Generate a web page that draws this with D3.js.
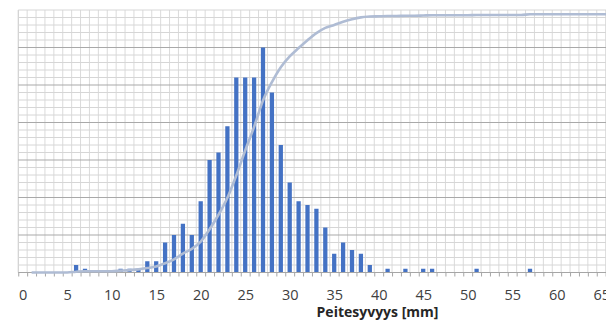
<!DOCTYPE html>
<html>
<head>
<meta charset="utf-8">
<script src="https://cdn.jsdelivr.net/npm/d3@7"></script>
<style>
  html, body { margin: 0; padding: 0; background: #ffffff; }
  svg { display: block; }
</style>
</head>
<body>
<svg id="chart" width="606" height="320"></svg>
<script>
// ---- data ----
// bins: cover depth in mm (one bin per millimetre)
const bins = [0,1,2,3,4,5,6,7,8,9,10,11,12,13,14,15,16,17,18,19,20,21,22,23,24,25,26,27,28,29,30,31,32,33,34,35,36,37,38,39,40,41,42,43,44,45,46,47,48,49,50,51,52,53,54,55,56,57,58,59,60,61,62,63,64,65,66];
// frequency (count) per bin
const counts = [0,0,0,0,0,0,2,1,0,0,0,1,1,1,3,3,8,10,13,10,19,30,32,39,52,52,52,60,48,34,24,19,18,17,12,5,8,6,5,2,0,1,0,1,0,1,1,0,0,0,0,1,0,0,0,0,0,1,0,0,0,0,0,0,0,0,0];
// cumulative share (%) per bin, secondary axis (bin 0 has no point)
const cumulative = [null,0,0,0,0,0,0.3,0.5,0.5,0.5,0.5,0.7,0.9,1.2,1.7,2.3,3.5,5.0,7.2,9.0,11.8,16.5,22.0,28.5,37.0,46.5,55.5,65.5,72.5,78.2,82.3,85.5,88.5,91.2,93.2,94.3,95.5,96.5,97.2,97.5,97.6,97.7,97.7,97.8,97.8,97.9,98.0,98.0,98.0,98.0,98.0,98.1,98.1,98.1,98.1,98.1,98.1,98.4,98.4,98.4,98.4,98.4,98.4,98.4,98.4,98.4,98.4];
// tick labels on the x axis
const xTickLabels = [0,5,10,15,20,25,30,35,40,45,50,55,60,65];
const xTitle = "Peitesyvyys [mm]";
// primary (count) axis range and grid steps
const countMax = 70;
const countMinorStep = 2;
const countMajorStep = 10;

// ---- layout ----
const W = 606, H = 320;
const plotTop = 10, plotBottom = 272.5;
const x0px = 22.7, x60px = 556.7;

const svg = d3.select("#chart");

const x = d3.scaleLinear().domain([0, 60]).range([x0px, x60px]);
const unit = x(1) - x(0);
const yCount = d3.scaleLinear().domain([0, countMax]).range([plotBottom, plotTop]);
const yCum = d3.scaleLinear().domain([0, 100]).range([plotBottom, plotTop]);

const g = svg.append("g");

// vertical grid lines at bin boundaries
const boundaries = bins.map(b => b - 0.5);
g.append("g").selectAll("line").data(boundaries).join("line")
  .attr("x1", d => x(d)).attr("x2", d => x(d))
  .attr("y1", plotTop).attr("y2", plotBottom)
  .attr("stroke", (d, i) => i === 0 ? "#c6c6c6" : "#dadada")
  .attr("stroke-width", 1);

// horizontal grid lines
const hLines = d3.range(countMinorStep, countMax + 0.001, countMinorStep);
g.append("g").selectAll("line").data(hLines).join("line")
  .attr("x1", x(-0.5)).attr("x2", W)
  .attr("y1", d => yCount(d)).attr("y2", d => yCount(d))
  .attr("stroke", d => (d % countMajorStep === 0 && d < countMax) ? "#a9a9a9" : "#d6d6d6")
  .attr("stroke-width", 1);

// bars
const barW = unit * 0.48;
g.append("g").selectAll("rect").data(bins.filter((b, i) => counts[i] > 0)).join("rect")
  .attr("x", d => x(d) - barW / 2)
  .attr("width", barW)
  .attr("y", d => yCount(counts[d]))
  .attr("height", d => plotBottom - yCount(counts[d]))
  .attr("fill", "#4472c4");

// x axis baseline + tick marks at bin boundaries
const tickAxis = d3.axisBottom(x).tickValues(boundaries).tickSize(4).tickFormat("");
const tickG = svg.append("g").attr("transform", `translate(0,${plotBottom})`).call(tickAxis);
tickG.select(".domain").attr("d", `M${x(-0.5)},0H${W}`).attr("stroke", "#a6a6a6");
tickG.selectAll(".tick line").attr("stroke", "#a6a6a6");

// cumulative line
const line = d3.line()
  .defined((d, i) => cumulative[i] !== null)
  .x(d => x(d))
  .y((d, i) => yCum(cumulative[i]))
  .curve(d3.curveMonotoneX);
svg.append("path")
  .datum(bins)
  .attr("d", line)
  .attr("fill", "none")
  .attr("stroke", "#afbcd4")
  .attr("stroke-width", 2.6)
  .attr("stroke-linejoin", "round");

// x labels
const labelAxis = d3.axisBottom(x).tickValues(xTickLabels).tickSize(0).tickPadding(17.2).tickFormat(d3.format("d"));
const labG = svg.append("g").attr("transform", `translate(0,${plotBottom})`).call(labelAxis);
labG.select(".domain").remove();
labG.selectAll("text")
  .attr("font-family", "'Open Sans', sans-serif")
  .attr("font-size", 14.5)
  .attr("fill", "#404040");

// axis title
svg.append("text")
  .attr("x", 377.5).attr("y", 316.5)
  .attr("text-anchor", "middle")
  .attr("font-family", "'Open Sans', sans-serif")
  .attr("font-weight", "bold")
  .attr("font-size", 14)
  .attr("fill", "#262626")
  .text(xTitle);
</script>
</body>
</html>
